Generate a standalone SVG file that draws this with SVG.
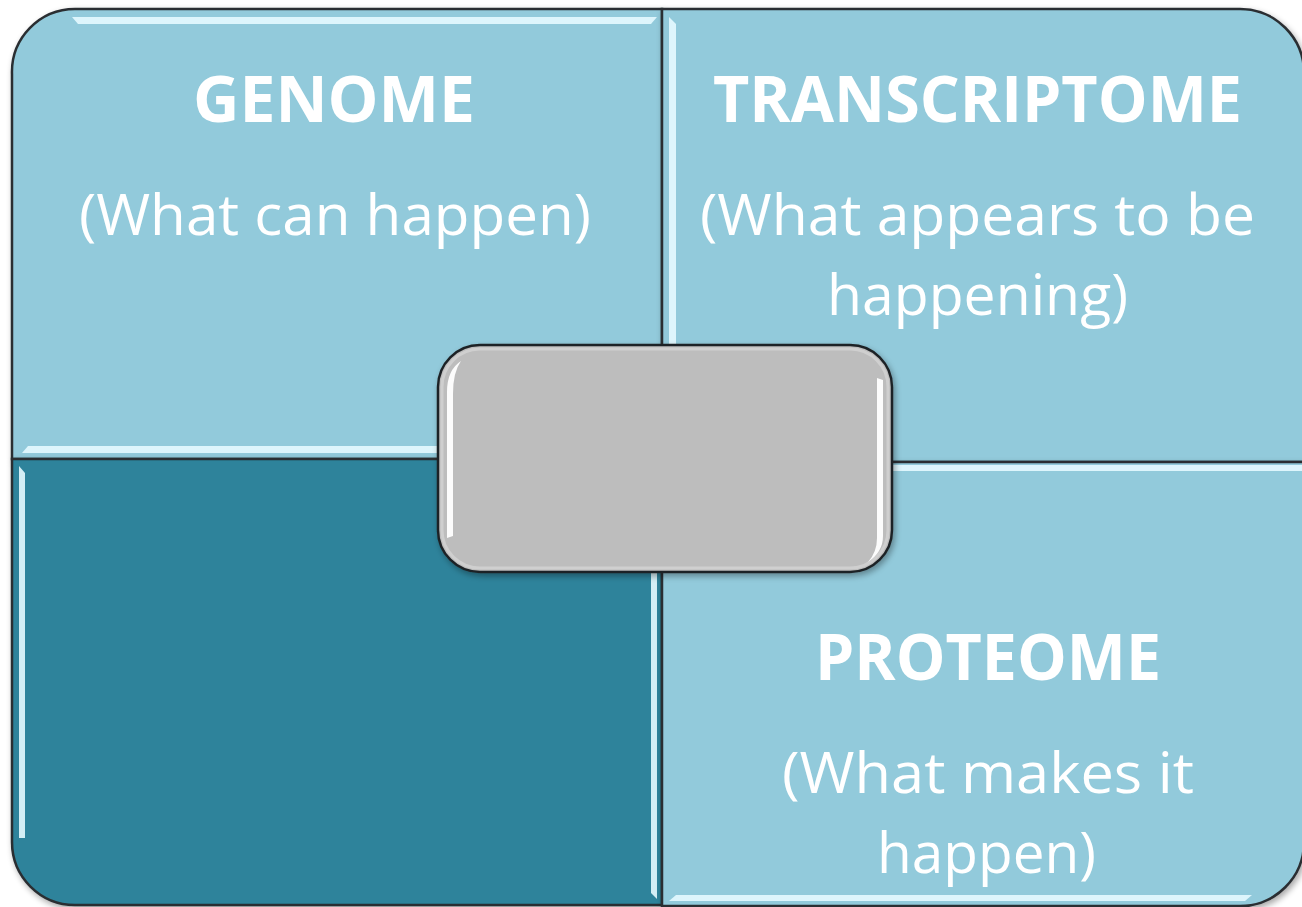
<svg xmlns="http://www.w3.org/2000/svg" width="1302" height="907" viewBox="0 0 1302 907">
  <style>
    .light { fill: #92CADB; stroke: #2b2f33; stroke-width: 2.5; }
    .dark { fill: #2E839B; stroke: #2b2f33; stroke-width: 2.5; }
    .hl { fill: #E6FAFF; opacity: 0.9; }
    .head { font-family: "Open Sans", "Liberation Sans", sans-serif; font-weight: bold; font-size: 65px; fill: #FFFFFF; }
    .sub { font-family: "Open Sans", "Liberation Sans", sans-serif; font-size: 56px; fill: #FFFFFF; }
  </style>
  <defs>
    <filter id="shadow" x="-5%" y="-5%" width="110%" height="110%">
      <feGaussianBlur in="SourceAlpha" stdDeviation="3"/>
      <feOffset dx="2" dy="3" result="b"/>
      <feComponentTransfer><feFuncA type="linear" slope="0.35"/></feComponentTransfer>
      <feMerge><feMergeNode/><feMergeNode in="SourceGraphic"/></feMerge>
    </filter>
  </defs>
  <rect x="0" y="0" width="1302" height="907" fill="#FFFFFF"/>

  <g id="genome">
    <path class="light" filter="url(#shadow)" d="M12,74 A63,63 0 0 1 75,9 L662,9 L662,459 L12,459 Z"/>
    <polygon class="hl" points="72,17 657,17 651,24 78,24"/>
    <polygon class="hl" points="22,453 28,446 655,446 655,453"/>
    <text class="head" x="193" y="122" textLength="282" lengthAdjust="spacingAndGlyphs">GENOME</text>
    <text class="sub" x="79" y="235" textLength="512" lengthAdjust="spacingAndGlyphs">(What can happen)</text>
  </g>

  <g id="transcriptome">
    <path class="light" filter="url(#shadow)" d="M662,9 L1240,9 A64,64 0 0 1 1304,73 L1304,462 L662,462 Z"/>
    <polygon class="hl" points="669,17 676,24 676,455 669,455"/>
    <text class="head" x="713" y="122" textLength="529" lengthAdjust="spacingAndGlyphs">TRANSCRIPTOME</text>
    <text class="sub" x="700" y="235" textLength="555" lengthAdjust="spacingAndGlyphs">(What appears to be</text>
    <text class="sub" x="827" y="315" textLength="301" lengthAdjust="spacingAndGlyphs">happening)</text>
  </g>

  <g id="bottom-left">
    <path class="dark" filter="url(#shadow)" d="M12,459 L662,459 L662,905 L75,905 A63,63 0 0 1 12,842 Z"/>
    <polygon class="hl" points="19,466 25,473 25,838 19,838"/>
    <polygon class="hl" points="651,466 657,466 657,899 651,893"/>
  </g>

  <g id="proteome">
    <path class="light" filter="url(#shadow)" d="M662,462 L1304,462 L1304,842 A64,64 0 0 1 1240,906 L662,906 Z"/>
    <polygon class="hl" points="669,465 1302,465 1302,471 676,471"/>
    <polygon class="hl" points="676,895 1252,895 1245,901 669,901"/>
    <text class="head" x="815" y="680" textLength="346" lengthAdjust="spacingAndGlyphs">PROTEOME</text>
    <text class="sub" x="782" y="793" textLength="412" lengthAdjust="spacingAndGlyphs">(What makes it</text>
    <text class="sub" x="877" y="873" textLength="219" lengthAdjust="spacingAndGlyphs">happen)</text>
  </g>

  <g id="center">
    <rect x="438" y="345" width="454" height="227" rx="42" ry="42" fill="#BDBDBD" stroke="#1f2326" stroke-width="2.5" filter="url(#shadow)"/>
    <rect x="442" y="349" width="446" height="219" rx="38" ry="38" fill="none" stroke="#CFCFCF" stroke-width="3"/>
    <path d="M461,361 Q447,370 447,392 L447,538 L453,536 L453,394 Q453,372 461,361 Z" fill="#FFFFFF" opacity="0.95"/>
    <path d="M877,378 L877,538 Q877,552 868,562 Q883,552 883,536 L883,380 Z" fill="#FFFFFF" opacity="0.95"/>
  </g>
</svg>
